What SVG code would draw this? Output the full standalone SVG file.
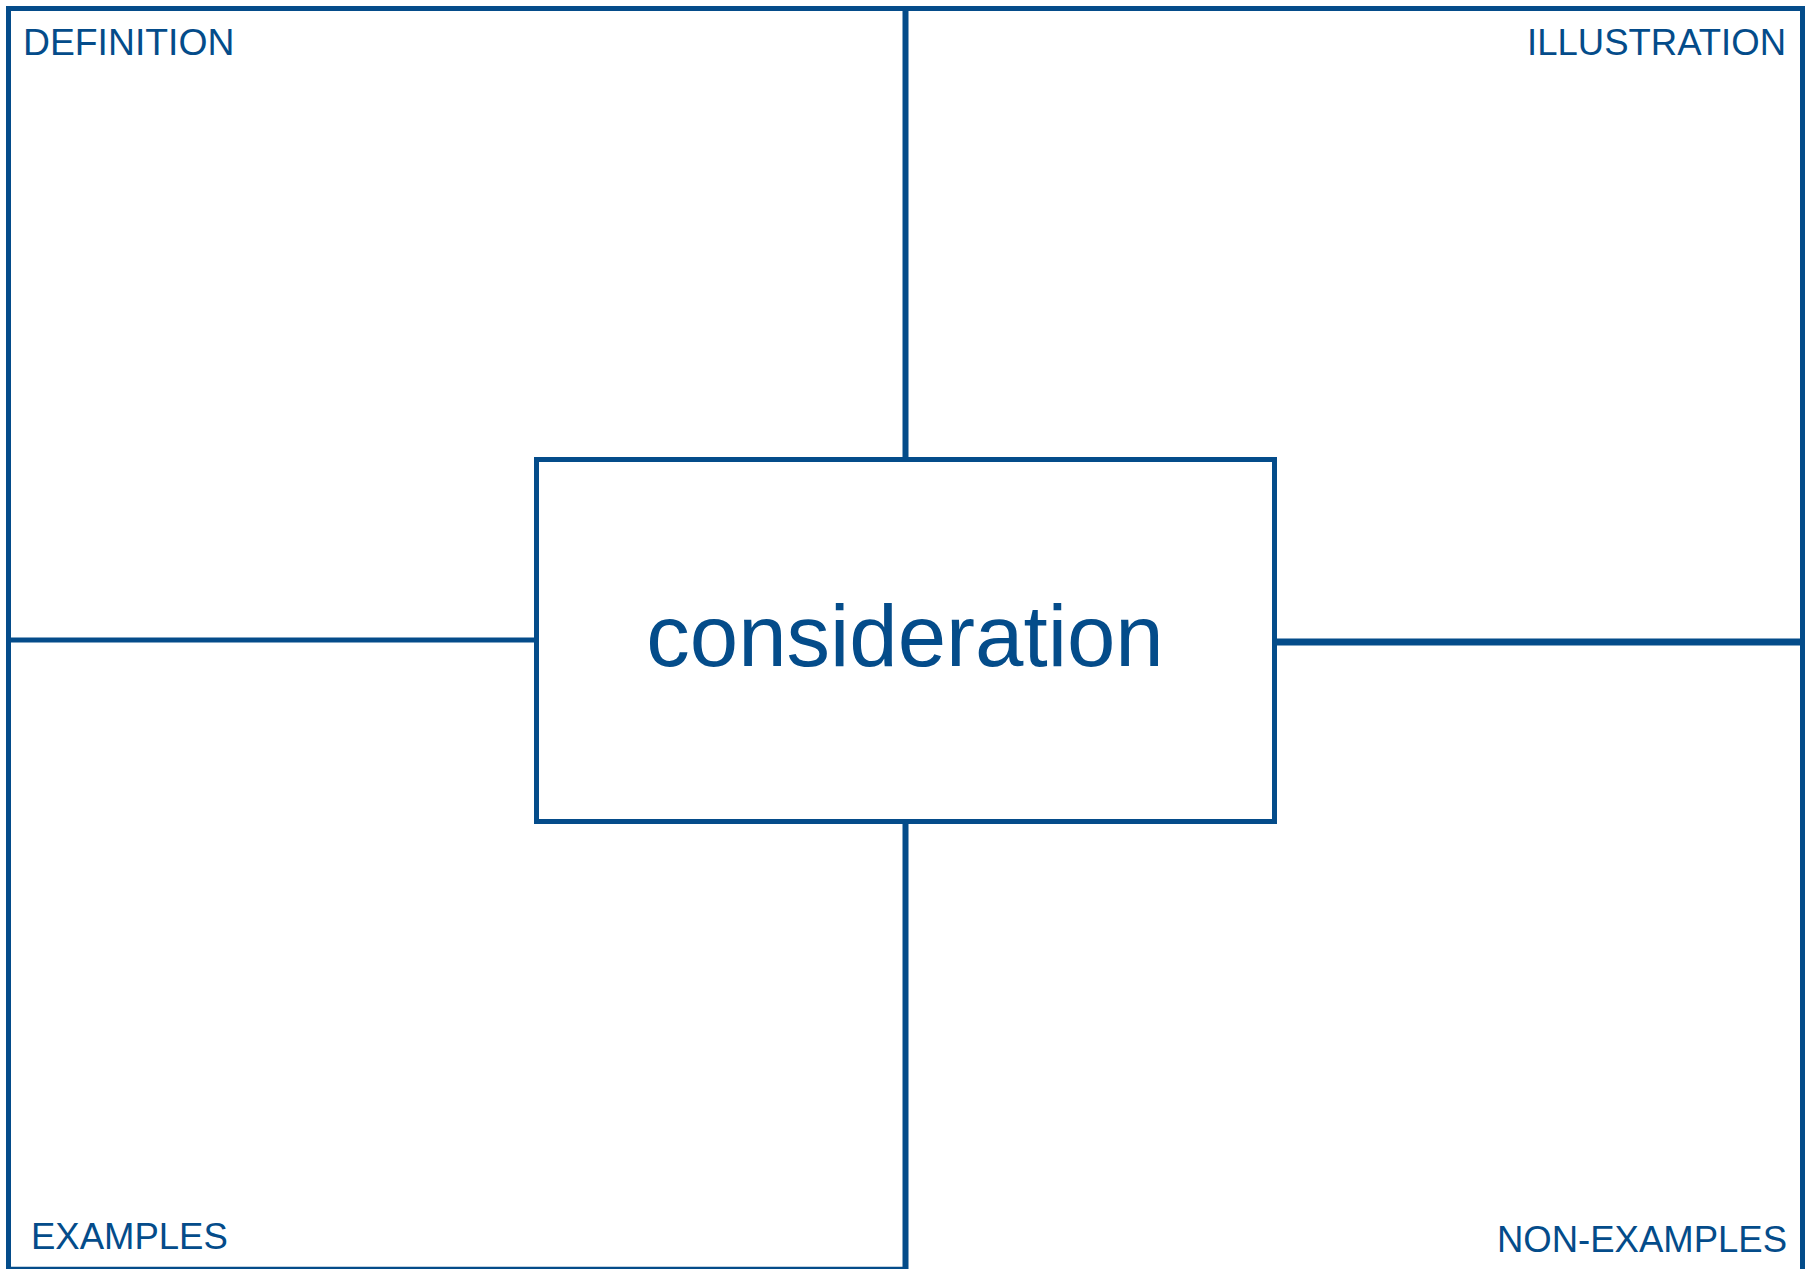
<svg xmlns="http://www.w3.org/2000/svg" width="1813" height="1269" viewBox="0 0 1813 1269">
<style>
.ln{stroke:#044c8a;fill:none}
.lbl{font-family:"Liberation Sans",Arial,sans-serif;fill:#044c8a;font-size:36.5px}
.big{font-family:"Liberation Sans",Arial,sans-serif;fill:#044c8a;font-size:87px}
</style>
<rect width="1813" height="1269" fill="#fff"/>
<g id="frame">
<path class="ln" d="M8.5,1269 V8.5 H1802.5 V1269" stroke-width="5"/>
<line class="ln" x1="6" y1="1268" x2="905" y2="1268" stroke-width="2.5"/>
</g>
<g id="connectors">
<line class="ln" x1="905.5" y1="8" x2="905.5" y2="459" stroke-width="6"/>
<line class="ln" x1="905.5" y1="822" x2="905.5" y2="1269" stroke-width="6"/>
<line class="ln" x1="9" y1="640" x2="536" y2="640" stroke-width="5"/>
<line class="ln" x1="1275" y1="642" x2="1802" y2="642" stroke-width="7"/>
</g>
<g id="center">
<rect class="ln" x="536.5" y="459.5" width="738" height="362" stroke-width="5" fill="#fff"/>
<text class="big" x="905" y="666" text-anchor="middle">consideration</text>
</g>
<g id="definition"><text class="lbl" x="23" y="55" style="font-size:37.3px">DEFINITION</text></g>
<g id="illustration"><text class="lbl" x="1786" y="55" text-anchor="end">ILLUSTRATION</text></g>
<g id="examples"><text class="lbl" x="31" y="1249">EXAMPLES</text></g>
<g id="non-examples"><text class="lbl" x="1787" y="1252" text-anchor="end">NON-EXAMPLES</text></g>
</svg>
